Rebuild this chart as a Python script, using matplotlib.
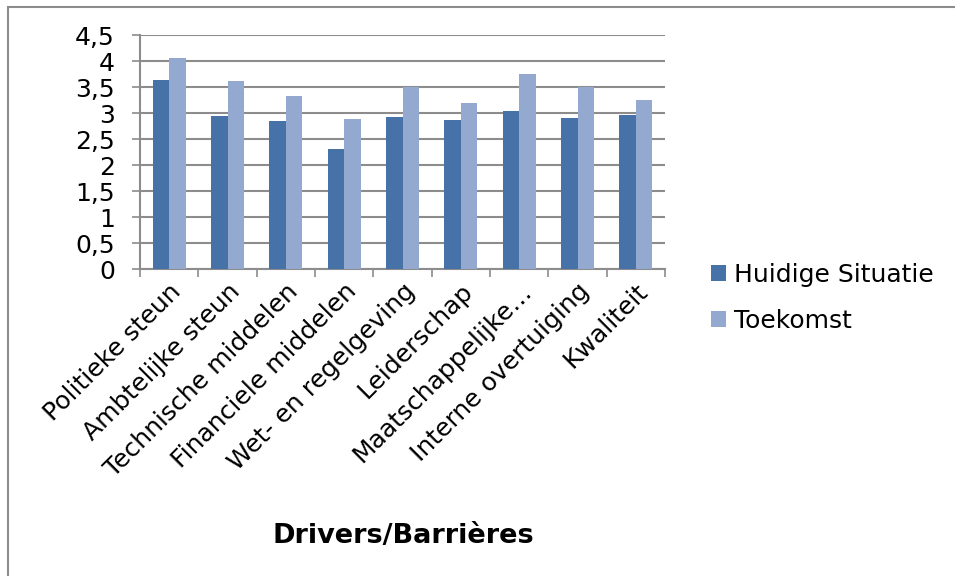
import matplotlib.pyplot as plt
import numpy as np
from matplotlib.patches import Rectangle

categories = ["Politieke steun", "Ambtelijke steun", "Technische middelen",
              "Financiele middelen", "Wet- en regelgeving", "Leiderschap",
              "Maatschappelijke…", "Interne overtuiging", "Kwaliteit"]
huidig = [3.63, 2.94, 2.84, 2.32, 2.92, 2.87, 3.04, 2.90, 2.97]
toekomst = [4.06, 3.61, 3.32, 2.89, 3.51, 3.19, 3.75, 3.51, 3.25]
yticks = [0, 0.5, 1, 1.5, 2, 2.5, 3, 3.5, 4, 4.5]

plt.rcParams['font.family'] = ['DejaVu Sans']
fs = 18

fig = plt.figure(figsize=(9.55, 5.76), dpi=100)
ax = fig.add_axes([140 / 955, 1 - 269.3 / 576, 525 / 955, 234.3 / 576])

x = np.arange(len(categories))
w = 0.285
ax.bar(x - w / 2, huidig, w, color='#4672A8', label='Huidige Situatie', zorder=3)
ax.bar(x + w / 2, toekomst, w, color='#94A9D0', label='Toekomst', zorder=3)

ax.set_xlim(-0.5, len(categories) - 0.5)
ax.set_ylim(0, 4.5)
ax.set_yticks(yticks)
ax.set_yticklabels([f"{v:g}".replace('.', ',') for v in yticks], fontsize=fs)
ax.yaxis.grid(True, color='#8C8C8C', linewidth=1.5, zorder=0)

ax.set_xticks(x)
ax.set_xticklabels(categories, rotation=45, ha='right', rotation_mode='anchor', fontsize=fs)
ax.set_xticks(np.arange(len(categories) + 1) - 0.5, minor=True)
ax.tick_params(axis='x', which='major', length=0, pad=7)
ax.tick_params(axis='x', which='minor', length=6, color='#8C8C8C', width=1.2)
ax.tick_params(axis='y', length=6, color='#8C8C8C', width=1.2, pad=12)

for s in ['top', 'right']:
    ax.spines[s].set_visible(False)
for s in ['left', 'bottom']:
    ax.spines[s].set_color('#8C8C8C')
    ax.spines[s].set_linewidth(1.5)

fig.legend(loc='upper left', bbox_to_anchor=(688 / 955, 1 - 240 / 576), frameon=False,
           fontsize=fs, handlelength=0.6, handleheight=0.6, handletextpad=0.35,
           labelspacing=0.9)

fig.text(403 / 955, 1 - 536 / 576, "Drivers/Barrières", fontsize=19.5, fontweight='bold',
         ha='center', va='center')

fig.patches.append(Rectangle((8 / 955, -0.1), 1.2, 1.1 - 7 / 576, transform=fig.transFigure,
                             fill=False, edgecolor='#8C8C8C', linewidth=1.5))

fig.savefig('out.png', dpi=100)
